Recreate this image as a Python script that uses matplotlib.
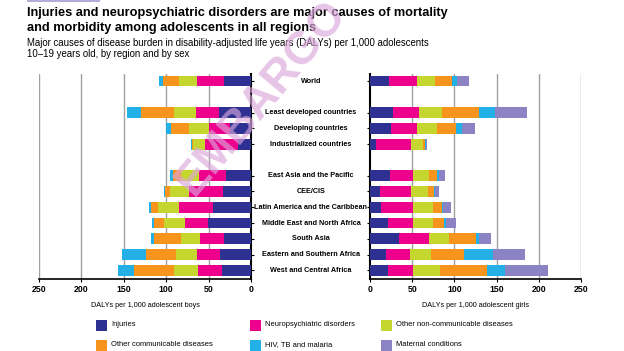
import numpy as np
import matplotlib
matplotlib.use("Agg")
import matplotlib.pyplot as plt
from matplotlib.patches import Rectangle

plt.rcParams["font.family"] = ["Liberation Sans", "DejaVu Sans"]

regions = ["World", "Least developed countries", "Developing countries",
           "Industrialized countries", "East Asia and the Pacific", "CEE/CIS",
           "Latin America and the Caribbean", "Middle East and North Africa",
           "South Asia", "Eastern and Southern Africa", "West and Central Africa"]
rows = [0, 2, 3, 4, 6, 7, 8, 9, 10, 11, 12]

causes = ["Injuries", "Neuropsychiatric disorders", "Other non-communicable diseases",
          "Other communicable diseases", "HIV, TB and malaria", "Maternal conditions"]
colors = ["#2e3192", "#ec008c", "#c5d72f", "#f7941d", "#22b0e6", "#8b83c3"]

# DALYs per 1,000 adolescent boys, by cause
boys_injuries = [32, 38, 25, 15, 30, 33.5, 45, 51, 31.5, 37, 34]
boys_neuro = [32, 27, 25, 39, 31, 39.5, 40, 27, 29, 27, 29]
boys_ncd = [21, 26, 23, 14.5, 21, 22, 25, 25, 22.5, 25, 28]
boys_othcomm = [18.5, 39, 21, 1.5, 10, 6, 8, 11, 31.5, 34.5, 47.5]
boys_hiv = [5.5, 16, 6, 1, 3, 2, 2.5, 2.5, 3, 28.5, 18.5]
boys_maternal = [0] * 11

# DALYs per 1,000 adolescent girls, by cause
girls_injuries = [23, 27, 25, 7, 23.5, 12, 13, 21.5, 34.5, 19, 21]
girls_neuro = [32.5, 30.5, 31, 41, 27.5, 36, 38, 29.5, 35.5, 28, 30.5]
girls_ncd = [21.5, 27.5, 23, 15, 19, 21, 24, 24, 23.5, 25, 31]
girls_othcomm = [20, 44, 22.5, 2, 9.5, 6.5, 10, 13, 31.5, 39, 56.5]
girls_hiv = [6, 19, 7, 1, 2.5, 1.5, 2, 2, 4.5, 35, 21]
girls_maternal = [14, 38, 15.5, 1.5, 7, 5, 9, 12, 13.5, 38, 51]

boys = [boys_injuries, boys_neuro, boys_ncd, boys_othcomm, boys_hiv, boys_maternal]
girls = [girls_injuries, girls_neuro, girls_ncd, girls_othcomm, girls_hiv, girls_maternal]

W, H = 624, 351
fig = plt.figure(figsize=(W / 100, H / 100), dpi=100)
axl = fig.add_axes([39 / W, 1 - 279 / H, 212 / W, 205 / H])
axr = fig.add_axes([370 / W, 1 - 279 / H, 211 / W, 205 / H])

for ax, data in [(axl, boys), (axr, girls)]:
    left = np.zeros(len(rows))
    for vals, c in zip(data, colors):
        ax.barh(rows, vals, left=left, height=0.68, color=c, zorder=3)
        left += np.array(vals)
    ax.set_xlim(0, 250)
    ax.set_ylim(12.55, -0.45)
    ax.set_xticks(range(0, 251, 50))
    for g in range(50, 251, 50):
        ax.axvline(g, color="#a0a0a0", lw=1, zorder=1)
    ax.set_yticks(rows)
    ax.set_yticklabels([])
    ax.tick_params(axis="x", labelsize=6.3, length=2, width=0.8, pad=2)
    ax.tick_params(axis="y", length=2.5, width=0.8, direction="out")
    for lab in ax.get_xticklabels():
        lab.set_fontweight("bold")
    ax.spines["top"].set_visible(False)
    ax.spines["bottom"].set_linewidth(1.2)

axl.invert_xaxis()
axl.spines["left"].set_visible(False)
axl.spines["right"].set_linewidth(1.5)
axl.yaxis.tick_right()
axr.spines["right"].set_visible(False)
axr.spines["left"].set_linewidth(1.5)

axl.set_xlabel("DALYs per 1,000 adolescent boys", fontsize=5.2, labelpad=6)
axr.set_xlabel("DALYs per 1,000 adolescent girls", fontsize=5.2, labelpad=6)

# region names between the panels
for name, r in zip(regions, rows):
    y = axl.transData.transform((0, r))[1]
    fig.text(311 / W, y / fig.dpi / (H / 100), name, ha="center", va="center",
             fontsize=5.2, fontweight="bold")

fig.add_artist(Rectangle((27 / W, 1 - 2 / H), 73 / W, 2 / H, transform=fig.transFigure,
                         color="#b3acd9", lw=0))
fig.text(27 / W, 1 - 13 / H, "Injuries and neuropsychiatric disorders are major causes of mortality",
         ha="left", va="center", fontsize=9.2, fontweight="bold")
fig.text(27 / W, 1 - 28.5 / H, "and morbidity among adolescents in all regions",
         ha="left", va="center", fontsize=9.2, fontweight="bold")
fig.text(27 / W, 1 - 42.5 / H, "Major causes of disease burden in disability-adjusted life years (DALYs) per 1,000 adolescents",
         ha="left", va="center", fontsize=6.9)
fig.text(27 / W, 1 - 54 / H, "10\u201319 years old, by region and by sex",
         ha="left", va="center", fontsize=6.9)

# watermark
fig.text(262 / W, 1 - 98 / H, "EMBARGO", rotation=50, ha="center", va="center",
         fontsize=33, fontweight="bold", color="#dba6db", alpha=0.65, zorder=10)

# legend, drawn as squares + text
leg_x = [96, 250, 381]
leg_y = [325, 345]
for i, (name, c) in enumerate(zip(causes, colors)):
    col, row = i % 3, i // 3
    x, y = leg_x[col], leg_y[row]
    fig.add_artist(Rectangle((x / W, 1 - (y + 5.5) / H), 11 / W, 11 / H,
                             transform=fig.transFigure, color=c, lw=0))
    fig.text((x + 15) / W, 1 - y / H, name, ha="left", va="center", fontsize=5.4)

fig.savefig("out.png", dpi=100)
